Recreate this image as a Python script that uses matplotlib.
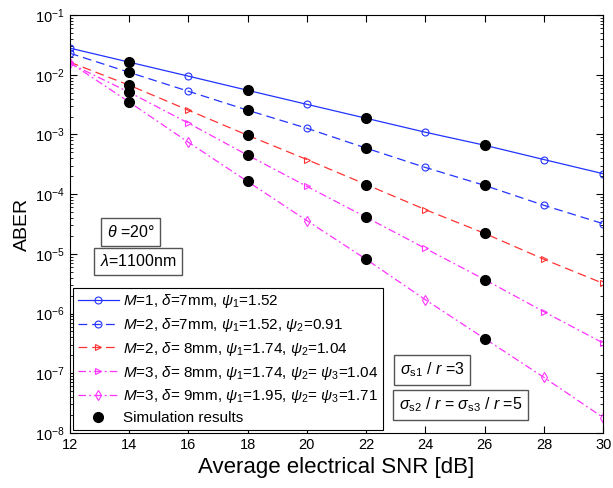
import numpy as np
import matplotlib.pyplot as plt
from matplotlib.lines import Line2D

plt.rcParams['font.family'] = ['Liberation Sans', 'DejaVu Sans']
plt.rcParams['mathtext.fontset'] = 'custom'
plt.rcParams['mathtext.rm'] = 'Liberation Sans'
plt.rcParams['mathtext.it'] = 'Liberation Sans:italic'
plt.rcParams['mathtext.default'] = 'it'

# data
snr = [12, 14, 16, 18, 20, 22, 24, 26, 28, 30]
aber_m1 = [2.8e-2, 1.63e-2, 9.5e-3, 5.5e-3, 3.2e-3, 1.87e-3, 1.09e-3, 6.6e-4, 3.8e-4, 2.2e-4]
aber_m2 = [2.3e-2, 1.1e-2, 5.3e-3, 2.55e-3, 1.27e-3, 5.9e-4, 2.8e-4, 1.4e-4, 6.5e-5, 3.2e-5]
aber_m2b = [1.63e-2, 6.7e-3, 2.55e-3, 9.7e-4, 3.8e-4, 1.45e-4, 5.5e-5, 2.2e-5, 8.1e-6, 3.2e-6]
aber_m3a = [1.55e-2, 5.1e-3, 1.55e-3, 4.5e-4, 1.35e-4, 4.1e-5, 1.23e-5, 3.7e-6, 1.07e-6, 3.2e-7]
aber_m3b = [1.6e-2, 3.5e-3, 7.4e-4, 1.63e-4, 3.6e-5, 8.1e-6, 1.7e-6, 3.8e-7, 8.5e-8, 1.8e-8]

sim_snr = [14, 18, 22, 26]
sim_m1 = [1.63e-2, 5.5e-3, 1.87e-3, 6.6e-4]
sim_m2 = [1.1e-2, 2.55e-3, 5.9e-4, 1.4e-4]
sim_m2b = [6.7e-3, 9.7e-4, 1.45e-4, 2.2e-5]
sim_m3a = [5.1e-3, 4.5e-4, 4.1e-5, 3.7e-6]
sim_m3b = [3.5e-3, 1.63e-4, 8.1e-6, 3.8e-7]

labels = [r'$M$=1, $\delta$=7mm, $\psi_1$=1.52',
          r'$M$=2, $\delta$=7mm, $\psi_1$=1.52, $\psi_2$=0.91',
          r'$M$=2, $\delta$= 8mm, $\psi_1$=1.74, $\psi_2$=1.04',
          r'$M$=3, $\delta$= 8mm, $\psi_1$=1.74, $\psi_2$= $\psi_3$=1.04',
          r'$M$=3, $\delta$= 9mm, $\psi_1$=1.95, $\psi_2$= $\psi_3$=1.71']

fig = plt.figure(figsize=(6.13, 4.88), dpi=100)
ax = fig.add_axes([0.114, 0.113, 0.870, 0.856])

blue = '#2233ff'
red = '#ff3333'
mag = '#ff33ff'
h1, = ax.semilogy(snr, aber_m1, '-', color=blue, lw=0.9, marker='o', ms=5, mfc='none', mew=0.8)
h2, = ax.semilogy(snr, aber_m2, '--', color=blue, lw=0.9, marker='o', ms=5, mfc='none', mew=0.8, dashes=(7, 4))
h3, = ax.semilogy(snr, aber_m2b, '--', color=red, lw=0.9, marker='>', ms=5, mfc='none', mew=0.8, dashes=(7, 4))
h4, = ax.semilogy(snr, aber_m3a, '-.', color=mag, lw=0.9, marker='>', ms=5, mfc='none', mew=0.8, dashes=(6, 2.5, 1.5, 2.5))
h5, = ax.semilogy(snr, aber_m3b, '-.', color=mag, lw=0.9, marker='d', ms=5, mfc='none', mew=0.8, dashes=(6, 2.5, 1.5, 2.5))

for s in [sim_m1, sim_m2, sim_m2b, sim_m3a, sim_m3b]:
    ax.semilogy(sim_snr, s, 'o', color='k', ms=7, ls='none')
hs = Line2D([], [], color='k', marker='o', ms=7, ls='none')

ax.set_xlim(12, 30)
ax.set_ylim(1e-8, 1e-1)
ax.set_xticks(snr)
ax.tick_params(which='both', direction='in', top=True, right=True, labelsize=10.5)
ax.tick_params(which='major', length=5)
ax.tick_params(which='minor', length=2.5)
ax.set_xlabel('Average electrical SNR [dB]', fontsize=16, labelpad=4)
ax.set_ylabel('ABER', fontsize=14, labelpad=3)

leg = ax.legend([h1, h2, h3, h4, h5, hs], labels + ['Simulation results'],
                loc='lower left', bbox_to_anchor=(0.0, 0.0), borderaxespad=0.2,
                fontsize=11, handlelength=2.7, handletextpad=0.3,
                labelspacing=0.38, fancybox=False, framealpha=1,
                edgecolor='k', borderpad=0.3)
leg.get_frame().set_linewidth(0.8)

box = dict(boxstyle='square,pad=0.35', fc='white', ec='#555555', lw=1.0)
ax.text(0.114, 0.481, r'$\theta$ =20°', fontsize=11.5, bbox=box, ha='center', va='center', transform=ax.transAxes)
ax.text(0.128, 0.411, r'$\lambda$=1100nm', fontsize=11.5, bbox=box, ha='center', va='center', transform=ax.transAxes)
ax.text(0.679, 0.151, r'$\sigma_{\rm s1}$ / $r$ =3', fontsize=11.5, bbox=box, ha='center', va='center', transform=ax.transAxes)
ax.text(0.732, 0.067, r'$\sigma_{\rm s2}$ / $r$ = $\sigma_{\rm s3}$ / $r$ =5', fontsize=11.5, bbox=box, ha='center', va='center', transform=ax.transAxes)

plt.savefig('out.png', dpi=100)
